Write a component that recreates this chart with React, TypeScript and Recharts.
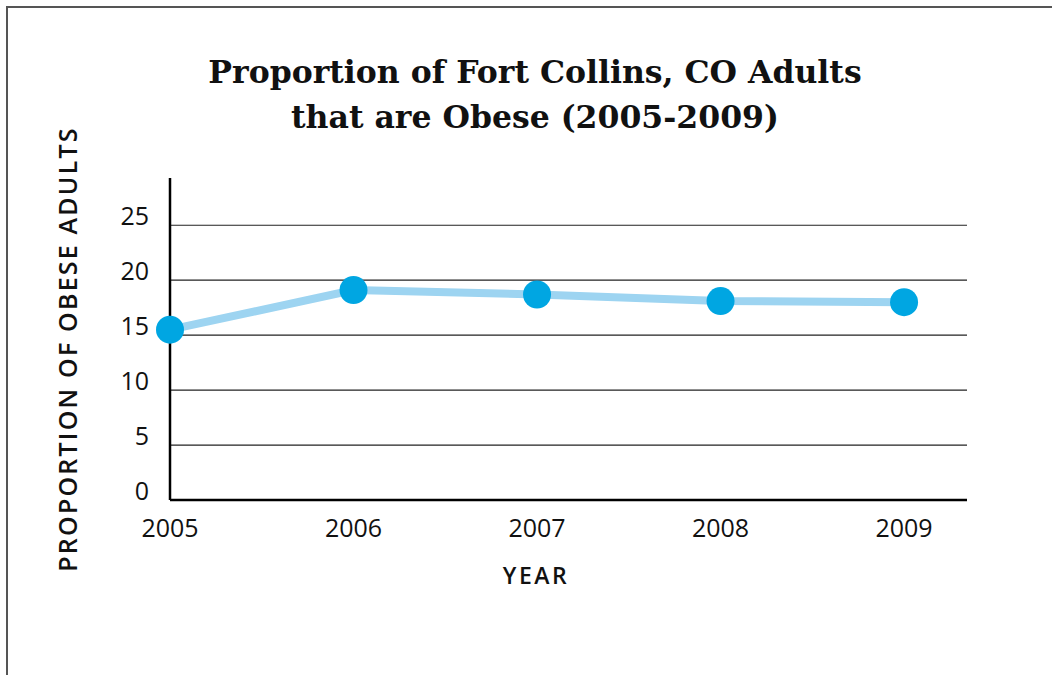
import React from 'react';
import { LineChart, Line, XAxis, YAxis, ReferenceLine } from 'recharts';

// values
const years = [2005, 2006, 2007, 2008, 2009];
const obesePct = [15.5, 19.1, 18.7, 18.1, 18.0];
const yTicks = [0, 5, 10, 15, 20, 25];

const data = years.map((year, i) => ({ year, value: obesePct[i] }));

const SANS = '"Open Sans", "Noto Sans", sans-serif';

const YTick = ({ x, y, payload }: any) => (
  <text x={x} y={y} textAnchor="end" fontFamily={SANS} fontSize={25} fill="#111">
    {payload.value}
  </text>
);

const XTick = ({ x, y, payload }: any) => (
  <text x={x} y={y + 37} textAnchor="middle" fontFamily={SANS} fontSize={25} fill="#111">
    {payload.value}
  </text>
);

const App = () => {
  return (
    <div
      style={{
        position: 'absolute',
        left: 0,
        top: 0,
        width: 1052,
        height: 675,
        overflow: 'hidden',
        background: '#fff',
      }}
    >
      {/* frame, open on the right and bottom */}
      <div
        style={{
          position: 'absolute',
          left: 6,
          top: 6,
          width: 1200,
          height: 800,
          border: '2px solid #555',
        }}
      />
      {/* title */}
      <div
        style={{
          position: 'absolute',
          left: 0,
          top: 49,
          width: 1070,
          textAlign: 'center',
          fontFamily: '"DejaVu Serif", serif',
          fontWeight: 'bold',
          fontSize: 31.5,
          lineHeight: '45px',
          color: '#111',
        }}
      >
        <div>Proportion of Fort Collins, CO Adults</div>
        <div>that are Obese (2005-2009)</div>
      </div>
      <LineChart
        width={1052}
        height={675}
        data={data}
        margin={{ top: 178, right: 85, left: 110, bottom: 145 }}
        style={{ position: 'absolute', left: 0, top: 0 }}
      >
        <XAxis
          dataKey="year"
          type="number"
          domain={[2005, 2009.343]}
          ticks={years}
          height={30}
          tickSize={0}
          tickMargin={0}
          tickLine={false}
          axisLine={{ stroke: '#000', strokeWidth: 2.5 }}
          tick={<XTick />}
        />
        <YAxis
          type="number"
          domain={[0, 29.3]}
          ticks={yTicks}
          width={60}
          tickSize={0}
          tickMargin={21}
          tickLine={false}
          axisLine={{ stroke: '#000', strokeWidth: 2.5 }}
          tick={<YTick />}
        />
        {/* horizontal grid lines */}
        {yTicks
          .filter((t) => t > 0)
          .map((t) => (
            <ReferenceLine key={t} y={t} stroke="#222" strokeWidth={1.2} />
          ))}
        <Line
          dataKey="value"
          stroke="#9dd4f1"
          strokeWidth={8}
          dot={{ r: 14, fill: '#00a6e2', stroke: 'none', strokeWidth: 0 }}
          activeDot={false}
          isAnimationActive={false}
        />
      </LineChart>
      {/* y axis title */}
      <div
        style={{
          position: 'absolute',
          left: 67,
          top: 349,
          transform: 'translate(-50%, -50%) rotate(-90deg)',
          whiteSpace: 'nowrap',
          fontFamily: SANS,
          fontWeight: 600,
          fontSize: 25,
          letterSpacing: 2.2,
          color: '#111',
        }}
      >
        PROPORTION OF OBESE ADULTS
      </div>
      {/* x axis title */}
      <div
        style={{
          position: 'absolute',
          left: 536,
          top: 575,
          transform: 'translate(-50%, -50%)',
          whiteSpace: 'nowrap',
          fontFamily: SANS,
          fontWeight: 600,
          fontSize: 23,
          letterSpacing: 2.5,
          color: '#111',
        }}
      >
        YEAR
      </div>
    </div>
  );
};

export default App;
